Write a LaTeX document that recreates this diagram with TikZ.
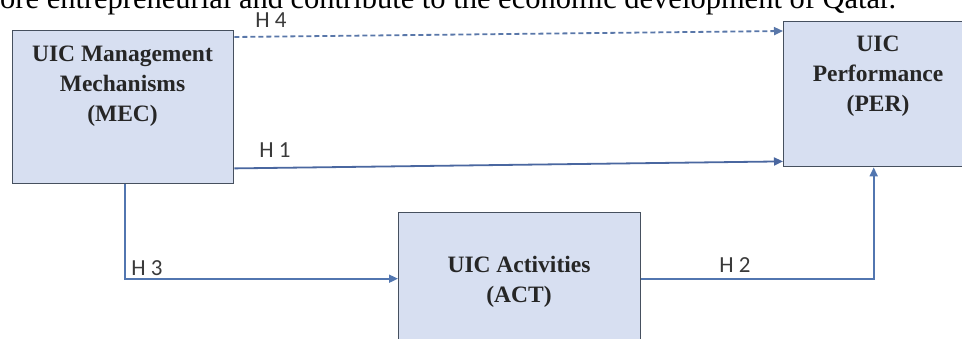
\documentclass[tikz,border=0pt]{standalone}
\usepackage{fontspec}
\setmainfont{Liberation Serif}
\newfontfamily\calib{Carlito}
\usetikzlibrary{arrows.meta}
\definecolor{boxfill}{HTML}{D7DFF1}
\definecolor{boxline}{HTML}{46505F}
\definecolor{linkblue}{HTML}{5276B0}
\definecolor{linkdark}{HTML}{4A67A0}
\definecolor{labgray}{HTML}{3A3A3A}
\tikzset{
  boxnode/.style={draw=boxline, line width=1.4pt, fill=boxfill, inner sep=0pt, anchor=north west},
  boxtext/.style={font=\fontsize{23.5}{30}\selectfont\bfseries, align=center, text=black!85, anchor=base, inner sep=0pt},
  link/.style={draw=linkblue, line width=1.8pt, -{Triangle[length=9pt,width=8pt]}},
  hlab/.style={font=\calib\fontsize{23}{26}\selectfont, text=labgray, anchor=base, inner sep=0pt}
}
\begin{document}
\begin{tikzpicture}[x=1pt,y=-1pt]
\useasboundingbox (0,0) rectangle (962,339);
% cut-off text line at the top
\node[anchor=base west, inner sep=0pt, font=\fontsize{30.5}{32}\selectfont] (top) at (0,9) {ore entrepreneurial and contribute to the economic development of Qatar.};
% boxes
\node[boxnode, minimum width=221pt, minimum height=153pt] (mec) at (12,30) {};
\node[boxnode, minimum width=190pt, minimum height=145pt] (per) at (783,21) {};
\node[boxnode, minimum width=242pt, minimum height=132pt] (act) at (398,212) {};
% box texts (anchored at the baseline of their last line)
\node[boxtext] (mect) at (122.5,122) {UIC Management\\Mechanisms\\(MEC)};
\node[boxtext] (pert) at (878,112) {UIC\\Performance\\(PER)};
\node[boxtext] (actt) at (519,302) {UIC Activities\\(ACT)};
% connectors
\draw[link, draw=linkblue!85!gray, dash pattern=on 5pt off 3pt] ([yshift=-7pt]mec.north east) -- ([yshift=-10pt]per.north west);
\draw[link, draw=linkdark] ([yshift=16pt]mec.south east) -- ([yshift=6pt]per.south west);
\draw[link] ([xshift=1.5pt]mec.south) |- (act.west);
\draw[link] (act.east) -| ([xshift=-5pt]per.south);
% labels
\node[hlab] (h4) at (271,28) {H 4};
\node[hlab] (h1) at (275,158) {H 1};
\node[hlab] (h3) at (147,276) {H 3};
\node[hlab] (h2) at (735,273) {H 2};
\end{tikzpicture}
\end{document}
